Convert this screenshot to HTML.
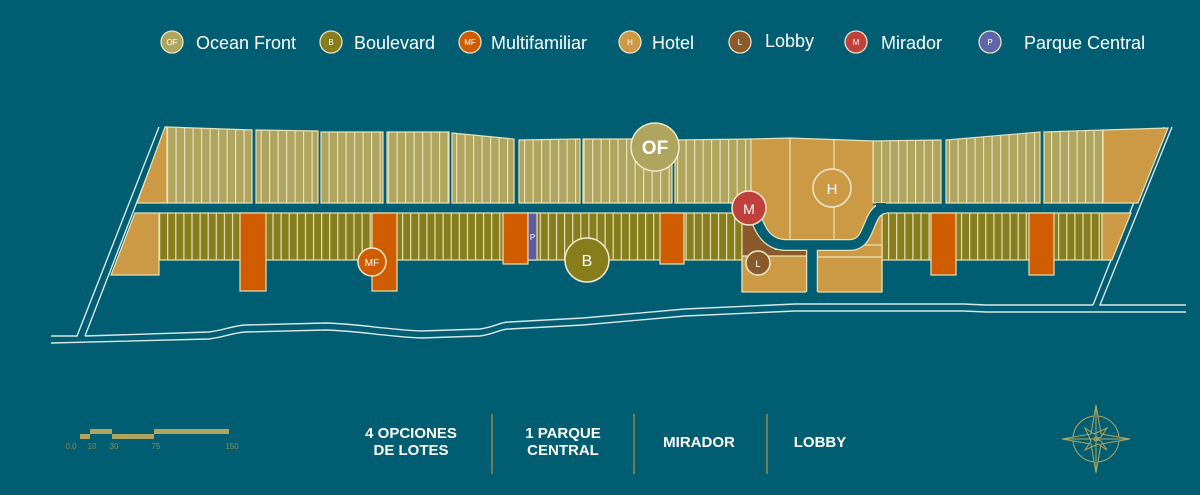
<!DOCTYPE html>
<html><head><meta charset="utf-8"><style>
html,body{margin:0;padding:0;background:#015E72;}
svg{display:block;}
text{font-family:"Liberation Sans",sans-serif;}
</style></head><body>
<svg width="1200" height="495" viewBox="0 0 1200 495" xmlns="http://www.w3.org/2000/svg">
<defs>
<pattern id="ofp" x="167" y="0" width="8.5" height="10" patternUnits="userSpaceOnUse">
<rect width="8.5" height="10" fill="#B0A55E"/><rect x="0" width="1.2" height="10" fill="#E6DFB8"/></pattern>
<pattern id="bp" x="159" y="0" width="8.1" height="10" patternUnits="userSpaceOnUse">
<rect width="8.1" height="10" fill="#877D1C"/><rect x="0" width="1.2" height="10" fill="#E6DFB8"/></pattern>
</defs>
<rect width="1200" height="495" fill="#015E72"/>

<!-- legend -->
<g stroke="#E8E2C8" stroke-width="1.3">
<circle cx="172" cy="42" r="11" fill="#B0A55E"/>
<circle cx="331" cy="42" r="11" fill="#877D1C"/>
<circle cx="470" cy="42" r="11" fill="#D05C00"/>
<circle cx="630" cy="42" r="11" fill="#CC9A45"/>
<circle cx="740" cy="42" r="11" fill="#8A5A2A"/>
<circle cx="856" cy="42" r="11" fill="#C0403C"/>
<circle cx="990" cy="42" r="11" fill="#5E66A8"/>
</g>
<g fill="#fff" font-size="8" text-anchor="middle">
<text x="172" y="45">OF</text><text x="331" y="45">B</text><text x="470" y="45">MF</text><text x="630" y="45">H</text><text x="740" y="45">L</text><text x="856" y="45">M</text><text x="990" y="45">P</text>
</g>
<g fill="#fff" font-size="18">
<text x="196" y="49">Ocean Front</text>
<text x="354" y="49">Boulevard</text>
<text x="491" y="49">Multifamiliar</text>
<text x="652" y="49">Hotel</text>
<text x="765" y="47">Lobby</text>
<text x="881" y="49">Mirador</text>
<text x="1024" y="49">Parque Central</text>
</g>

<!-- boundary lines & roads -->
<g fill="none" stroke="#D8E6E6" stroke-width="1.4">
<polyline points="159,127 77,336 51,336"/>
<polyline points="166,127 85,336"/>
<polyline points="1172,127 1100,305 1186,305"/>
<polyline points="1164,127 1093,305"/>
<path d="M85,336 L209,332 C225,330 232,326 245,325 L326,323 C360,324 390,330 421,331 L480,329 C495,327 500,322 509,322 L583,318 L685,309 L795,304 L964,304 L986,305 L1093,305"/>
<path d="M51,343 L209,339 C225,337 232,333 245,332 L326,330 C360,331 390,337 421,338 L480,336 C495,334 500,329 509,329 L583,325 L685,316 L795,311 L964,311 L986,312 L1186,312"/>
</g>

<g stroke="#E8E0B8" stroke-width="1.2">
<!-- top row -->
<polygon points="137,203 165,127 167,127 167,203" fill="#CC9A45"/>
<polygon points="167,127 252,130 252,203 167,203" fill="url(#ofp)"/>
<polygon points="256,130 318,131 318,203 256,203" fill="url(#ofp)"/>
<polygon points="321,132 383,132 383,203 321,203" fill="url(#ofp)"/>
<polygon points="387,132 449,132 449,203 387,203" fill="url(#ofp)"/>
<polygon points="452,133 514,139 514,203 452,203" fill="url(#ofp)"/>
<polygon points="519,140 580,139 580,203 519,203" fill="url(#ofp)"/>
<polygon points="583,139 672,139 672,203 583,203" fill="url(#ofp)"/>
<polygon points="675,140 751,139 751,203 675,203" fill="url(#ofp)"/>
<polygon points="873,141 941,140 941,203 873,203" fill="url(#ofp)"/>
<polygon points="946,140 1040,132 1040,203 946,203" fill="url(#ofp)"/>
<polygon points="1044,132 1103,130 1103,203 1044,203" fill="url(#ofp)"/>
<polygon points="1103,130 1168,128 1138,203 1103,203" fill="#CC9A45"/>
<!-- bottom row -->
<polygon points="135,213 159,213 159,275 111,275" fill="#CC9A45"/>
<rect x="159" y="213" width="583" height="47" fill="url(#bp)"/>
<rect x="882" y="213" width="220" height="47" fill="url(#bp)"/>
<polygon points="1102,213 1131,213 1112,260 1102,260" fill="#CC9A45"/>
<rect x="240" y="213" width="26" height="78" fill="#D05C00"/>
<rect x="372" y="213" width="25" height="78" fill="#D05C00"/>
<rect x="503" y="213" width="25" height="51" fill="#D05C00"/>
<rect x="528" y="213" width="9" height="47" fill="#5E5BA0"/>
<rect x="660" y="213" width="24" height="51" fill="#D05C00"/>
<rect x="931" y="213" width="25" height="62" fill="#D05C00"/>
<rect x="1029" y="213" width="25" height="62" fill="#D05C00"/>
<!-- hotel / lobby area -->
<rect x="742" y="205" width="140" height="87" fill="#CC9A45" stroke="none"/>
<polygon points="751,139 790,138 873,141 873,250 751,250" fill="#CC9A45" stroke="none"/>
<polyline points="751,203 751,139 790,138 873,141 873,203" fill="none"/>
<rect x="742" y="250" width="65" height="42" fill="#CC9A45"/>
<rect x="817" y="245" width="65" height="47" fill="#CC9A45"/>
<polygon points="742,213 752,213 756,225 762,240 775,250 807,250 807,256 742,256" fill="#8A5A2A" stroke="none"/>
<line x1="742" y1="213" x2="742" y2="292"/>
<line x1="882" y1="213" x2="882" y2="292"/>
<line x1="790" y1="138" x2="790" y2="240"/>
<line x1="834" y1="139" x2="834" y2="240"/>
<line x1="817" y1="257" x2="882" y2="257"/>
<line x1="742" y1="256" x2="807" y2="256"/>
</g>
<!-- road over hotel area -->
<g fill="none" stroke-linejoin="round">
<path d="M752,208 C758,222 762,244 785,245 L850,245 C872,245 866,210 885,208" stroke="#E8E0B8" stroke-width="12"/>
<line x1="812" y1="245" x2="812" y2="292" stroke="#E8E0B8" stroke-width="12"/>
<path d="M752,208 C758,222 762,244 785,245 L850,245 C872,245 866,210 885,208" stroke="#015E72" stroke-width="9.5"/>
<line x1="812" y1="245" x2="812" y2="293" stroke="#015E72" stroke-width="9.5"/>
<rect x="806" y="292" width="12" height="4" fill="#015E72" stroke="none"/>
<rect x="876" y="203" width="10" height="10" fill="#015E72" stroke="none"/>
</g>

<!-- markers -->
<g stroke="#F0EAD0" stroke-width="1.5">
<circle cx="655" cy="147" r="24" fill="#B0A55E"/>
<circle cx="832" cy="188" r="19" fill="#CC9A45"/>
<circle cx="749" cy="208" r="17" fill="#C0403C"/>
<circle cx="758" cy="263" r="12" fill="#8A5A2A"/>
<circle cx="587" cy="260" r="22" fill="#877D1C"/>
<circle cx="372" cy="262" r="14" fill="#D05C00"/>
</g>
<g fill="#fff" text-anchor="middle">
<text x="655" y="154" font-size="19" font-weight="bold">OF</text>
<text x="832" y="194" font-size="15">H</text>
<text x="749" y="214" font-size="14">M</text>
<text x="758" y="267" font-size="9">L</text>
<text x="587" y="266" font-size="16">B</text>
<text x="372" y="266" font-size="10">MF</text>
<text x="532.5" y="240" font-size="8">P</text>
</g>

<!-- scale -->
<g fill="#B0A55E">
<rect x="80" y="434" width="10" height="5"/>
<rect x="90" y="429" width="22" height="5"/>
<rect x="112" y="434" width="42" height="5"/>
<rect x="154" y="429" width="75" height="5"/>
</g>
<g fill="#8D8A50" font-size="8" text-anchor="middle">
<text x="71" y="449">0.0</text><text x="92" y="449">10</text><text x="114" y="449">30</text><text x="156" y="449">75</text><text x="232" y="449">150</text>
</g>

<!-- bottom info -->
<g stroke="#8D8A50" stroke-width="1.5">
<line x1="492" y1="414" x2="492" y2="474"/>
<line x1="634" y1="414" x2="634" y2="474"/>
<line x1="767" y1="414" x2="767" y2="474"/>
</g>
<g fill="#fff" font-size="15" font-weight="bold" text-anchor="middle">
<text x="411" y="438">4 OPCIONES</text><text x="411" y="455">DE LOTES</text>
<text x="563" y="438">1 PARQUE</text><text x="563" y="455">CENTRAL</text>
<text x="699" y="447">MIRADOR</text>
<text x="820" y="447">LOBBY</text>
</g>

<!-- compass -->
<g fill="none" stroke="#B0A55E" stroke-width="1">
<circle cx="1096" cy="439" r="23"/>
<polygon points="1096,405 1101,434 1130,439 1101,444 1096,473 1091,444 1062,439 1091,434" fill="#015E72"/>
<line x1="1096" y1="405" x2="1096" y2="473"/>
<line x1="1062" y1="439" x2="1130" y2="439"/>
<polygon points="1107,428 1101,437 1096,439 1101,441 1107,450 1098,444 1085,450 1091,441 1085,428 1094,434" fill="none"/>
<circle cx="1096" cy="439" r="2"/>
</g>
</svg>
</body></html>
